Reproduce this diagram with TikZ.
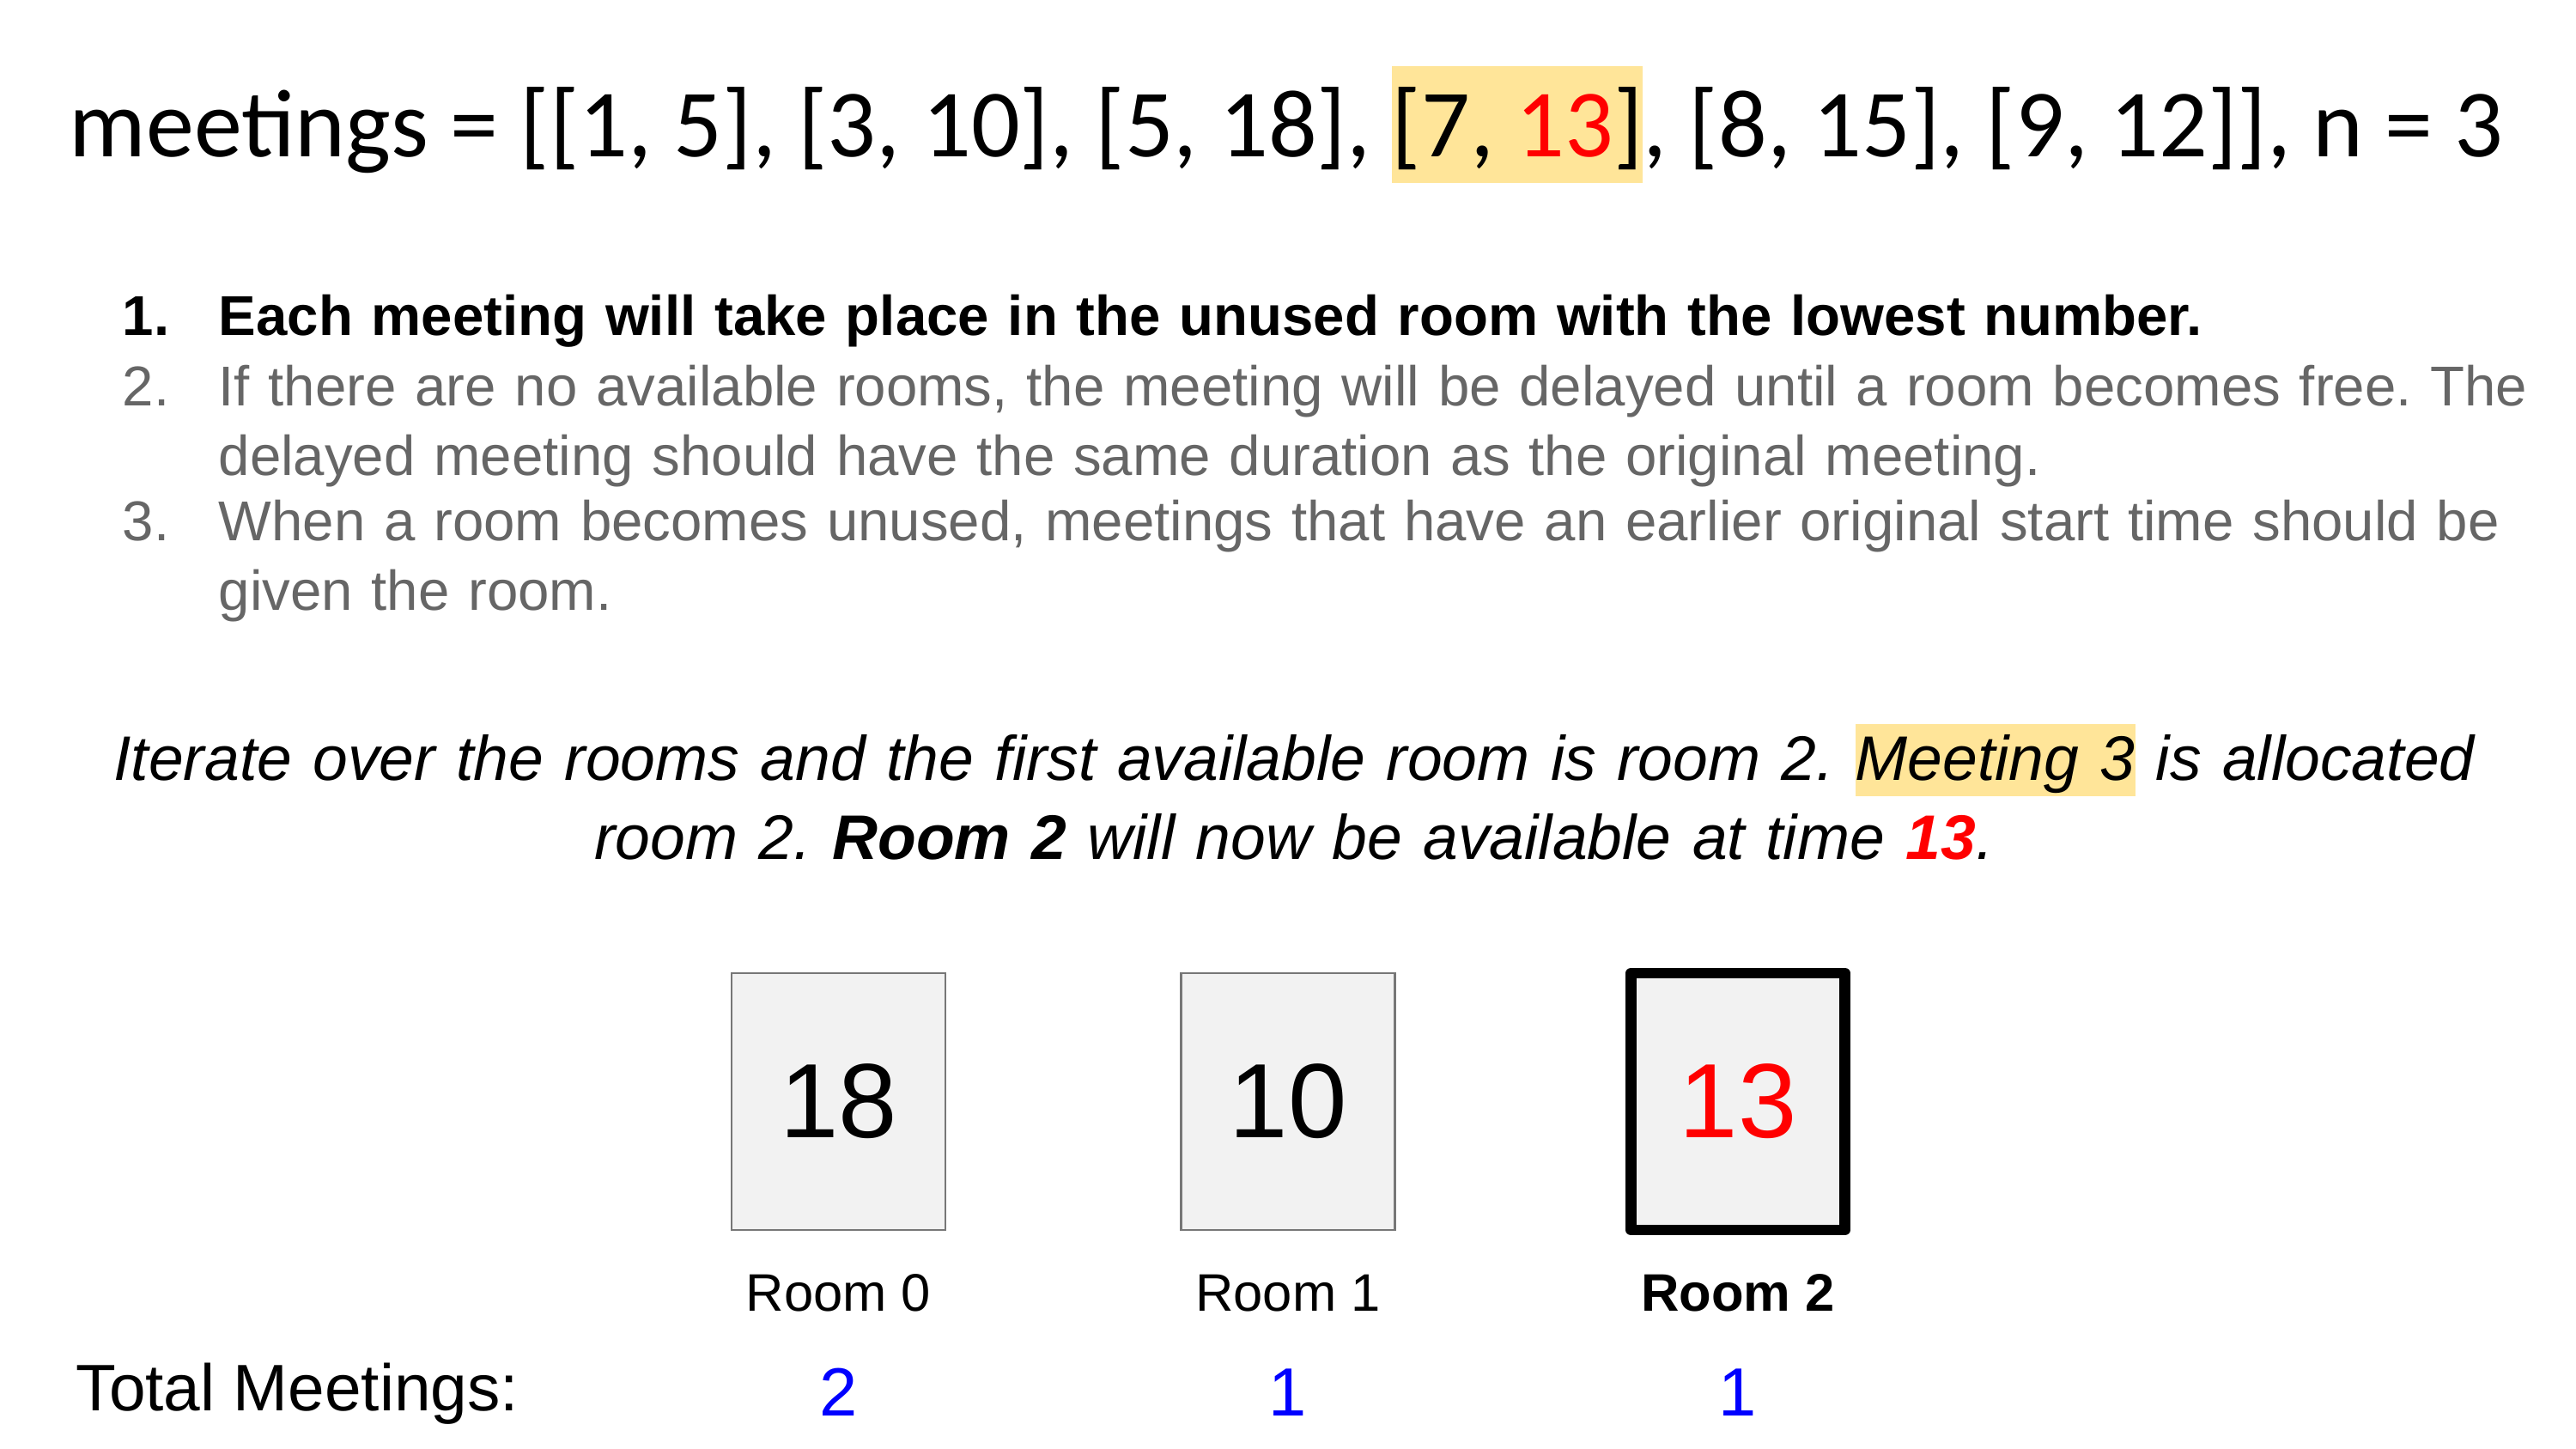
\documentclass[tikz,border=0pt]{standalone}
\usepackage{fontspec}
\setmainfont{Liberation Sans}
\newfontfamily\titlefont{Carlito}
\usepackage{xcolor}
\usetikzlibrary{positioning,calc}
\definecolor{hlyellow}{HTML}{FFE599}
\definecolor{rulegray}{HTML}{666666}
\definecolor{roomfill}{HTML}{F2F2F2}
\definecolor{roomline}{HTML}{777777}
\definecolor{cntblue}{HTML}{0000FF}
% yellow marker behind a piece of text: height, depth, text
\newcommand{\hlmark}[3]{{\setlength{\fboxsep}{0pt}\colorbox{hlyellow}{\rule[-#2]{0pt}{\dimexpr#1+#2\relax}#3}}}
\frenchspacing

\begin{document}
\begin{tikzpicture}[
        txt/.style={inner sep=0, anchor=base west},
        rulenum/.style={txt, font=\fontsize{18.6}{22.8}\selectfont},
        ruletxt/.style={txt, text width=28.5cm, align=left, font=\fontsize{18.6}{22.8}\selectfont},
        roombox/.style={draw=roomline, fill=roomfill, line width=0.6pt, outer sep=0, minimum width=2.49cm, minimum height=2.99cm, font=\fontsize{35}{40}\selectfont},
        roomlbl/.style={inner sep=0, anchor=base, font=\fontsize{17.5}{20}\selectfont},
        cnt/.style={inner sep=0, anchor=base, text=cntblue, font=\fontsize{22.6}{26}\selectfont}
    ]
        \useasboundingbox (0,0) rectangle (30,16.87);

        \node[txt, font=\titlefont\fontsize{31.9}{38}\selectfont] (meetings) at (0.80,15.04)
            {meetings = [[1, 5], [3, 10], [5, 18], \hlmark{1.06cm}{0.30cm}{[7, \textcolor{red}{13}]}, [8, 15], [9, 12]], n = 3};

        \node[rulenum, font=\bfseries\fontsize{18.6}{22.8}\selectfont] (num1) at (1.42,12.96) {1.};
        \node[ruletxt, font=\bfseries\fontsize{18.6}{22.8}\selectfont] (rule1) at (2.54,12.96) {Each meeting will take place in the unused room with the lowest number.};
        \node[rulenum, text=rulegray] (num2) at (1.42,12.14) {2.};
        \node[ruletxt, text=rulegray] (rule2) at (2.54,12.14) {If there are no available rooms, the meeting will be delayed until a room becomes free. The\\ delayed meeting should have the same duration as the original meeting.};
        \node[rulenum, text=rulegray] (num3) at (1.42,10.57) {3.};
        \node[ruletxt, text=rulegray] (rule3) at (2.54,10.57) {When a room becomes unused, meetings that have an earlier original start time should be\\ given the room.};

        \node[inner sep=0, anchor=base, text width=29.5cm, align=center, font=\itshape\fontsize{20.85}{25.9}\selectfont] (step) at (15.07,7.78)
            {Iterate over the rooms and the first available room is room 2. \hlmark{0.66cm}{0.18cm}{Meeting 3} is allocated\\ room 2. \textbf{Room 2} will now be available at time \textcolor{red}{\textbf{13}}.};

        \node[roombox] (room0) at (9.765,4.045) {18};
        \node[roombox] (room1) at (15.00,4.045) {10};
        \node[roombox, draw=black, line width=3.6pt, line join=round, text=red] (room2) at (20.24,4.045) {13};

        \node[roomlbl] (lbl0) at ([yshift=-0.95cm]room0.south) {Room 0};
        \node[roomlbl] (lbl1) at ([yshift=-0.95cm]room1.south) {Room 1};
        \node[roomlbl, font=\bfseries\fontsize{17.5}{20}\selectfont] (lbl2) at ([yshift=-0.95cm]room2.south) {Room 2};

        \node[txt, font=\fontsize{21.8}{25}\selectfont] (total) at (0.88,0.44) {Total Meetings:};
        \node[cnt] (cnt0) at ([yshift=-1.22cm]lbl0.base) {2};
        \node[cnt] (cnt1) at ([yshift=-1.22cm]lbl1.base) {1};
        \node[cnt] (cnt2) at ([yshift=-1.22cm]lbl2.base) {1};
    \end{tikzpicture}
\end{document}
